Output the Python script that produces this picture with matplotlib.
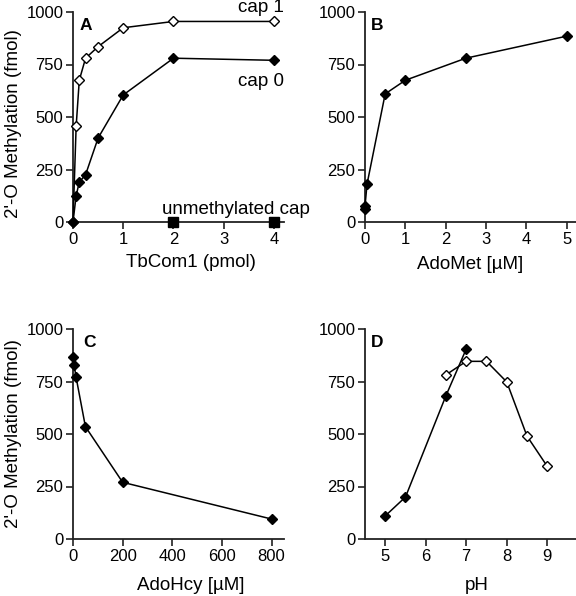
import matplotlib
matplotlib.use('Agg')
import matplotlib.pyplot as plt

plt.rcParams['font.family'] = ['Liberation Sans', 'DejaVu Sans']

# A: TbCom1 titration
a_x = [0, 0.0625, 0.125, 0.25, 0.5, 1, 2, 4]
a_cap1 = [0, 455, 675, 780, 835, 925, 955, 955]
a_cap0 = [0, 125, 190, 225, 400, 605, 780, 770]
a_unmeth_x = [2, 4]
a_unmeth = [0, 0]

# B: AdoMet
b_x = [0, 0, 0.05, 0.5, 1, 2.5, 5]
b_y = [60, 75, 180, 610, 675, 780, 885]

# C: AdoHcy
c_x = [0, 4, 12.5, 50, 200, 800]
c_y = [865, 830, 770, 535, 270, 95]

# D: pH
d_x1 = [5, 5.5, 6.5, 7]
d_y1 = [110, 200, 683, 905]
d_x2 = [6.5, 7, 7.5, 8, 8.5, 9]
d_y2 = [782, 846, 846, 748, 490, 346]

W, H = 576, 596
fig = plt.figure(figsize=(W / 100, H / 100), dpi=100)


def make_ax(left, top, right, bottom):
    ax = fig.add_axes([left / W, 1 - bottom / H, (right - left) / W, (bottom - top) / H])
    for s in ['top', 'right']:
        ax.spines[s].set_visible(False)
    for s in ['left', 'bottom']:
        ax.spines[s].set_linewidth(1.3)
        ax.spines[s].set_color('#222222')
    ax.tick_params(direction='out', length=5, width=1.2, labelsize=12, color='#222222', pad=2)
    ax.set_ylim(0, 1000)
    ax.set_yticks([0, 250, 500, 750, 1000])
    return ax


line = dict(color='black', lw=1.1, clip_on=False, zorder=3)
filled = dict(marker='D', ms=5, mfc='black', mec='black')
hollow = dict(marker='D', ms=5, mfc='white', mec='black', mew=1.0)

# panel A
ax = make_ax(73, 12, 284, 222)
ax.plot(a_x, a_cap1, **line, **hollow)
ax.plot(a_x, a_cap0, **line, **filled)
ax.plot(a_unmeth_x, a_unmeth, ls='none', marker='s', ms=6.5, color='black', clip_on=False, zorder=4)
ax.set_xlim(0, 4.2)
ax.set_xticks([0, 1, 2, 3, 4])
ax.set_xlabel('TbCom1 (pmol)', fontsize=13.5)
ax.xaxis.set_label_coords(0.56, -0.15)
ax.set_ylabel("2'-O Methylation (fmol)", fontsize=13.5)
ax.yaxis.set_label_coords(-0.24, 0.47)
ax.text(0.03, 0.97, 'A', transform=ax.transAxes, fontsize=12.5, fontweight='bold', va='top')
ax.text(1.0, 1.02, 'cap 1', transform=ax.transAxes, fontsize=13.5, ha='right', va='center')
ax.text(1.0, 0.67, 'cap 0', transform=ax.transAxes, fontsize=13.5, ha='right', va='center')
ax.text(0.42, 0.058, 'unmethylated cap', transform=ax.transAxes, fontsize=13.5, ha='left', va='center')

# panel B
ax = make_ax(365, 12, 576, 222)
ax.plot(b_x, b_y, **line, **filled)
ax.set_xlim(0, 5.23)
ax.set_xticks([0, 1, 2, 3, 4, 5])
ax.set_xlabel('AdoMet [µM]', fontsize=13.5)
ax.xaxis.set_label_coords(0.5, -0.16)
ax.text(0.03, 0.97, 'B', transform=ax.transAxes, fontsize=12.5, fontweight='bold', va='top')

# panel C
ax = make_ax(73, 329, 284, 539)
ax.plot(c_x, c_y, **line, **filled)
ax.set_xlim(0, 850)
ax.set_xticks([0, 200, 400, 600, 800])
ax.set_xlabel('AdoHcy [µM]', fontsize=13.5)
ax.xaxis.set_label_coords(0.56, -0.18)
ax.set_ylabel("2'-O Methylation (fmol)", fontsize=13.5)
ax.yaxis.set_label_coords(-0.24, 0.5)
ax.text(0.05, 0.97, 'C', transform=ax.transAxes, fontsize=12.5, fontweight='bold', va='top')

# panel D
ax = make_ax(365, 329, 576, 539)
ax.plot(d_x1, d_y1, **line, **filled)
ax.plot(d_x2, d_y2, **line, **hollow)
ax.set_xlim(4.5, 9.71)
ax.set_xticks([5, 6, 7, 8, 9])
ax.set_xlabel('pH', fontsize=13.5)
ax.xaxis.set_label_coords(0.53, -0.18)
ax.text(0.03, 0.97, 'D', transform=ax.transAxes, fontsize=12.5, fontweight='bold', va='top')

fig.savefig('out.png', dpi=100)
